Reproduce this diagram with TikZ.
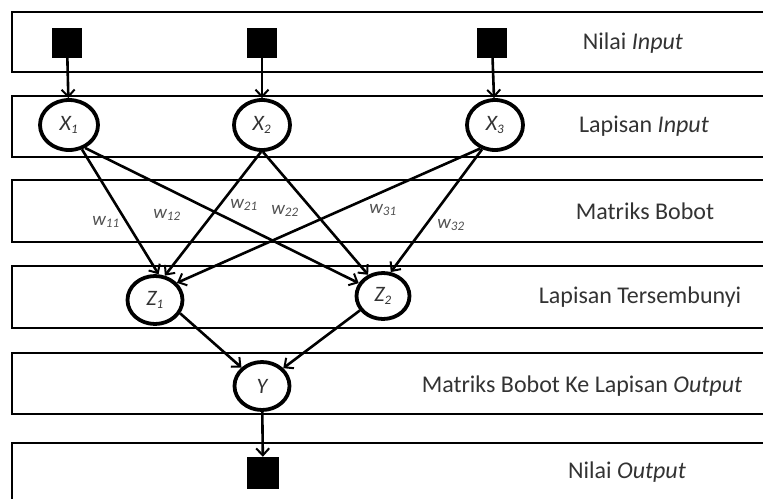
\documentclass[tikz,border=0pt]{standalone}
\usepackage{fontspec}
\setmainfont{Carlito}
\usetikzlibrary{shapes.geometric,arrows.meta}
\definecolor{txt}{HTML}{333333}
\definecolor{wtxt}{HTML}{505050}
\tikzset{
  band/.style={draw=black,line width=2pt},
  inbox/.style={rectangle,fill=black,minimum size=30pt,inner sep=0pt},
  neuron/.style={ellipse,draw=black,line width=3.8pt,fill=white,minimum width=55pt,minimum height=48pt,inner sep=0pt,font=\fontsize{22}{24}\selectfont\itshape,text=txt},
  link/.style={line width=2.6pt,-{Straight Barb[length=7pt,width=13pt,line width=2pt]}},
  wlab/.style={font=\fontsize{19}{21}\selectfont\itshape,text=wtxt,inner sep=0pt},
  layerlab/.style={font=\fontsize{24}{28}\selectfont,text=txt,inner sep=0pt}
}
\newcommand{\wsub}[1]{\textsubscript{\fontsize{13}{14}\selectfont #1}}
\begin{document}
\begin{tikzpicture}[x=1pt,y=-1pt]
\useasboundingbox (0,0) rectangle (763,498);
\clip (0,0) rectangle (763,498);
% bands
\draw[band] (12,12) rectangle (780,72);
\draw[band] (12,96) rectangle (780,157);
\draw[band] (12,180) rectangle (780,242);
\draw[band] (12,266) rectangle (780,328);
\draw[band] (12,353) rectangle (780,414);
\draw[band] (12,443) rectangle (780,520);
% input squares
\node[inbox] (s1) at (67,43) {};
\node[inbox] (s2) at (262,43) {};
\node[inbox] (s3) at (492,43) {};
% input neurons
\node[neuron,minimum width=58pt,minimum height=50pt] (x1) at (69,125) {X\wsub{1}};
\node[neuron,minimum width=56pt,minimum height=50pt] (x2) at (262,125) {X\wsub{2}};
\node[neuron,minimum width=56pt,minimum height=50pt] (x3) at (495,125) {X\wsub{3}};
% hidden neurons
\node[neuron] (z1) at (155,300) {Z\wsub{1}};
\node[neuron,minimum width=53pt,minimum height=46pt] (z2) at (383,296) {Z\wsub{2}};
% output neuron
\node[neuron] (y) at (262,386) {Y};
% output square
\node[inbox,minimum size=32pt] (so) at (263,473) {};
% connectors
\draw[link] (s1) -- (x1);
\draw[link] (s2) -- (x2);
\draw[link] (s3) -- (x3);
\draw[link] (x1.-62) -- (z1.82);
\draw[link] (x1.-55) -- (z2.152);
\draw[link] (x2.-92) -- (z1.68);
\draw[link] (x2.-88) -- (z2.125);
\draw[link] (x3.-122) -- (z1.38);
\draw[link] (x3.-118) -- (z2.72);
\draw[link] (z1.-28) -- (y.138);
\draw[link] (z2.-148) -- (y.40);
\draw[link] (y) -- (so);
% weight labels
\node[wlab] (w11) at (106,222) {w\wsub{11}};
\node[wlab] (w12) at (167,215) {w\wsub{12}};
\node[wlab] (w21) at (244,205) {w\wsub{21}};
\node[wlab] (w22) at (285,211) {w\wsub{22}};
\node[wlab] (w31) at (383,210) {w\wsub{31}};
\node[wlab] (w32) at (451,225) {w\wsub{32}};
% layer labels
\node[layerlab] (l1) at (633,43) {Nilai \textit{Input}};
\node[layerlab] (l2) at (644,126) {Lapisan \textit{Input}};
\node[layerlab] (l3) at (645,211) {Matriks Bobot};
\node[layerlab] (l4) at (640,297) {Lapisan Tersembunyi};
\node[layerlab] (l5) at (582,386) {Matriks Bobot Ke Lapisan \textit{Output}};
\node[layerlab] (l6) at (627,472) {Nilai \textit{Output}};
\end{tikzpicture}
\end{document}
